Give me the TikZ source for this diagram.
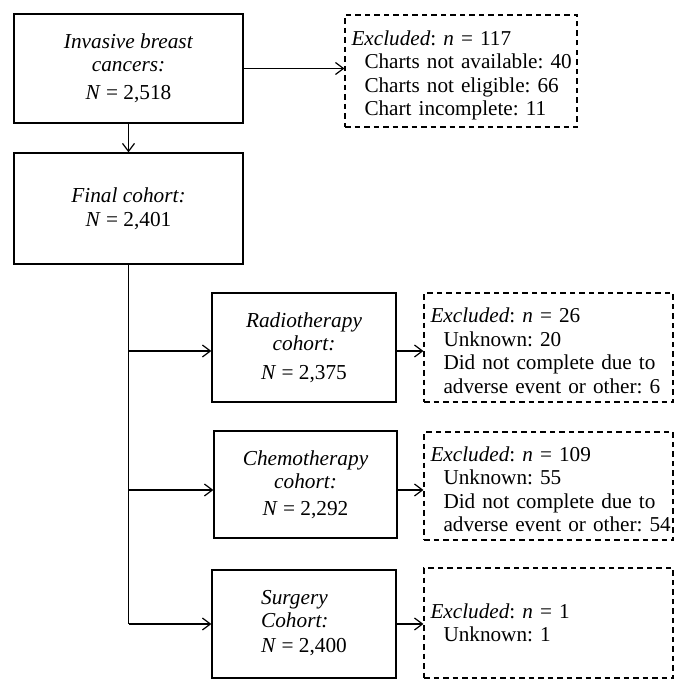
\documentclass[tikz,border=0pt]{standalone}
\usepackage{fontspec}
\setmainfont{Liberation Serif}
\usetikzlibrary{arrows.meta}
\tikzset{
  boxnode/.style={draw=black, line width=1.2pt, inner sep=0pt, align=center,
    font=\fontsize{21.3}{23}\selectfont\frenchspacing},
  exclnode/.style={draw=black, line width=1.1pt, dash pattern=on 5.5pt off 4pt,
    inner xsep=6.5pt, inner ysep=0pt, align=left,
    font=\fontsize{21.2}{23.5}\selectfont\frenchspacing},
  conn/.style={line width=1.2pt},
  arr/.style={conn, -{Straight Barb[length=8pt,width=12pt,line width=1.2pt]}},
}
\newcommand{\ind}[1]{\mbox{\hspace*{13pt}#1}}
\begin{document}
\begin{tikzpicture}[x=1pt,y=-1pt]
\useasboundingbox (0,0) rectangle (689,693);

\node[boxnode, minimum width=229pt, minimum height=109pt] (b1) at (128.5,68.5)
  {\textit{Invasive breast}\\ \textit{cancers:}\\[5pt] \textit{N} = 2,518};
\node[exclnode, text width=219pt, minimum height=112pt] (e1) at (461,71)
  {\mbox{\rule{0pt}{24pt}\textit{Excluded}: \textit{n} = 117}\\ \ind{Charts not available: 40}\\ \ind{Charts not eligible: 66}\\ \ind{Chart incomplete: 11}};

\node[boxnode, minimum width=229pt, minimum height=111pt] (b2) at (128.5,208.5)
  {\textit{Final cohort:}\\[1pt] \textit{N} = 2,401};

\node[boxnode, minimum width=184pt, minimum height=109pt] (rad) at (304,347.5)
  {\textit{Radiotherapy}\\ \textit{cohort:}\\[6pt] \textit{N} = 2,375};
\node[exclnode, text width=236pt, minimum height=109pt] (e2) at (548.5,347.5)
  {\mbox{\rule{0pt}{21pt}\textit{Excluded}: \textit{n} = 26}\\ \ind{Unknown: 20}\\ \ind{Did not complete due to}\\ \ind{adverse event or other: 6}};

\node[boxnode, minimum width=183pt, minimum height=107pt] (che) at (305.5,484.5)
  {\textit{Chemotherapy}\\ \textit{cohort:}\\[4pt] \textit{N} = 2,292};
\node[exclnode, text width=236pt, minimum height=108pt] (e3) at (548.5,486)
  {\mbox{\rule{0pt}{21pt}\textit{Excluded}: \textit{n} = 109}\\ \ind{Unknown: 55}\\ \ind{Did not complete due to}\\ \ind{adverse event or other: 54}};

\node[boxnode, minimum width=184pt, minimum height=108pt] (sur) at (304,624)
  {\begin{tabular}{@{}l@{}}\textit{Surgery}\\ \textit{Cohort:}\\[2pt] \textit{N} = 2,400\end{tabular}};
\node[exclnode, text width=236pt, minimum height=110pt] (e4) at (548.5,623)
  {\mbox{\textit{Excluded}: \textit{n} = 1}\\ \ind{Unknown: 1}};

\coordinate (j1) at (128.5,351);
\coordinate (j2) at (128.5,490);
\coordinate (j3) at (128.5,624);

\draw[arr] (b1.east) -- (b1.east -| e1.west);
\draw[arr] (b1.south) -- (b2.north);
\draw[conn] (b2.south) -- (j3);
\draw[arr] (j1) -- (j1 -| rad.west);
\draw[arr] (j2) -- (j2 -| che.west);
\draw[arr] (j3) -- (j3 -| sur.west);
\draw[arr] (j1 -| rad.east) -- (j1 -| e2.west);
\draw[arr] (j2 -| che.east) -- (j2 -| e3.west);
\draw[arr] (j3 -| sur.east) -- (j3 -| e4.west);
\end{tikzpicture}
\end{document}
